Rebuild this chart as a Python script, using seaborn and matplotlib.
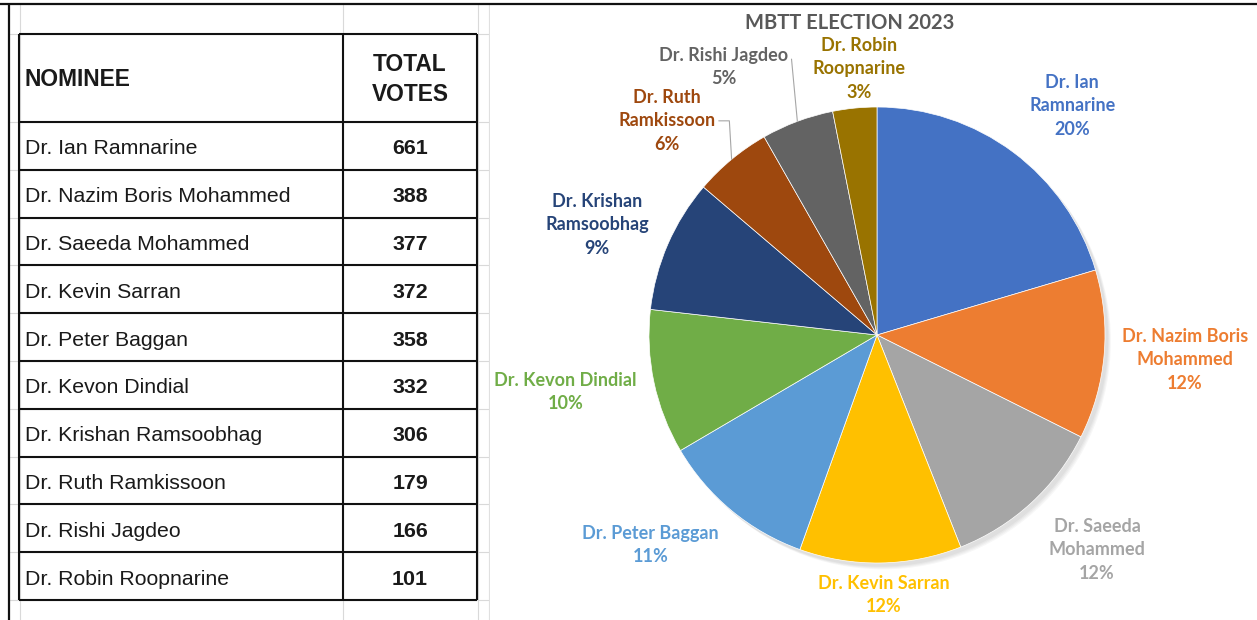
import numpy as np
import matplotlib
matplotlib.use('Agg')
import matplotlib.pyplot as plt
import seaborn as sns
from matplotlib.patches import Circle

# ---- data ----
NOMINEES = ['Dr. Ian Ramnarine', 'Dr. Nazim Boris Mohammed', 'Dr. Saeeda Mohammed',
            'Dr. Kevin Sarran', 'Dr. Peter Baggan', 'Dr. Kevon Dindial',
            'Dr. Krishan Ramsoobhag', 'Dr. Ruth Ramkissoon', 'Dr. Rishi Jagdeo',
            'Dr. Robin Roopnarine']
VOTES = [661, 388, 377, 372, 358, 332, 306, 179, 166, 101]
PIE_LABELS = ['Dr. Ian\nRamnarine', 'Dr. Nazim Boris\nMohammed', 'Dr. Saeeda\nMohammed',
              'Dr. Kevin Sarran', 'Dr. Peter Baggan', 'Dr. Kevon Dindial',
              'Dr. Krishan\nRamsoobhag', 'Dr. Ruth\nRamkissoon', 'Dr. Rishi Jagdeo',
              'Dr. Robin\nRoopnarine']
HEADERS = ['NOMINEE', 'TOTAL\nVOTES']
TITLE = 'MBTT ELECTION 2023'

SLICE_COLORS = ['#4472C4', '#ED7D31', '#A5A5A5', '#FFC000', '#5B9BD5',
                '#70AD47', '#264478', '#9E480E', '#636363', '#997300']

# label placement: distance (pie radii) and angle nudge (deg) from slice middle
LABEL_DIST = [1.32, 1.355, 1.349, 1.14, 1.356, 1.39, 1.32, 1.315, 1.353, 1.17]
LABEL_NUDGE = [-3.7, 0.4, 3.2, 0.6, -7.5, -1.6, 2.0, 4.8, 9.3, -1.7]
LEADERS = [None, None, None, None, None, None, None, 'elbow', 'straight', None]

# ---- layout (pixels) ----
W, H = 1257, 620
TABLE_LEFT, COL_SPLIT, TABLE_RIGHT = 19, 343, 477
HEADER_TOP, HEADER_BOTTOM, ROW_H = 34, 122, 47.8
PIE_CX, PIE_CY, PIE_R, PIE_HALF = 877, 335, 228, 300
GRID_COLS = [20, 343, 478, 489]


def largest_remainder(values):
    raw = np.array(values, dtype=float) / np.sum(values) * 100
    floor = np.floor(raw).astype(int)
    left = 100 - floor.sum()
    order = np.argsort(-(raw - floor))
    floor[order[:left]] += 1
    return floor


sns.set_theme(style='white')
plt.rcParams['font.family'] = ['Liberation Sans', 'DejaVu Sans']

fig = plt.figure(figsize=(W / 100, H / 100), dpi=100)

# background sheet in pixel coordinates
bg = fig.add_axes([0, 0, 1, 1])
bg.set_xlim(0, W)
bg.set_ylim(H, 0)
bg.axis('off')

row_edges = [HEADER_TOP, HEADER_BOTTOM] + [HEADER_BOTTOM + ROW_H * (i + 1) for i in range(len(NOMINEES))]
grid_c = '#D9D9D9'
for x in GRID_COLS:
    bg.vlines(x, 3, H, color=grid_c, lw=0.8, zorder=1)
for y in row_edges + [row_edges[-1] + ROW_H]:
    bg.hlines(y, 9, GRID_COLS[-1], color=grid_c, lw=0.8, zorder=1)
bg.add_patch(plt.Rectangle((GRID_COLS[-1] + 0.5, 4), W, H, color='white', zorder=2))
bg.hlines(3.5, 0, W, color='#111111', lw=1.6, zorder=5)
bg.vlines(9, 3, H, color='#111111', lw=1.6, zorder=5)

# table
tc = '#111111'
for y in row_edges:
    bg.hlines(y, TABLE_LEFT, TABLE_RIGHT, color=tc, lw=1.5, zorder=4)
for x in [TABLE_LEFT, COL_SPLIT, TABLE_RIGHT]:
    bg.vlines(x, row_edges[0], row_edges[-1], color=tc, lw=1.5, zorder=4)

hy = (HEADER_TOP + HEADER_BOTTOM) / 2
num_x = (COL_SPLIT + TABLE_RIGHT) / 2
bg.text(TABLE_LEFT + 6, hy + 1, HEADERS[0], fontsize=16.4, fontweight='bold',
        ha='left', va='center', color='#1a1a1a', zorder=6)
bg.text(num_x, hy + 1.5, HEADERS[1], fontsize=16.4, fontweight='bold', linespacing=1.38,
        ha='center', va='center', color='#1a1a1a', zorder=6)
for i, (name, v) in enumerate(zip(NOMINEES, VOTES)):
    yc = HEADER_BOTTOM + ROW_H * (i + 0.5) + 3
    bg.text(TABLE_LEFT + 6, yc, name, fontsize=15.3, ha='left', va='center',
            color='#1a1a1a', zorder=6)
    bg.text(num_x, yc, str(v), fontsize=15.4, fontweight='bold', ha='center',
            va='center', color='#1a1a1a', zorder=6)

# pie
pax = fig.add_axes([(PIE_CX - PIE_HALF) / W, (H - PIE_CY - PIE_HALF) / H,
                    2 * PIE_HALF / W, 2 * PIE_HALF / H])
lim = PIE_HALF / PIE_R
# soft shadow towards bottom-right
for k in range(4):
    pax.add_patch(Circle((0.014 + 0.004 * k, -0.016 - 0.004 * k), 1.0, color='black',
                         alpha=0.03, lw=0, zorder=0))
wedges, _ = pax.pie(VOTES, colors=SLICE_COLORS, startangle=90, counterclock=False,
                    radius=1.0, wedgeprops=dict(edgecolor='white', linewidth=0.5))
pax.set_xlim(-lim, lim)
pax.set_ylim(-lim, lim)
pax.set_aspect('equal')
pax.axis('off')

pcts = largest_remainder(VOTES)
lab_font = ['Lato', 'DejaVu Sans']
texts = []
for w, lab, pct, d, nud, col in zip(wedges, PIE_LABELS, pcts, LABEL_DIST, LABEL_NUDGE, SLICE_COLORS):
    mid = np.deg2rad((w.theta1 + w.theta2) / 2 + nud)
    t = pax.text(d * np.cos(mid), d * np.sin(mid), f'{lab}\n{pct}%', ha='center',
                 va='center', fontsize=13, fontweight='bold', color=col,
                 family=lab_font, linespacing=1.45)
    texts.append(t)

fig.canvas.draw()
renderer = fig.canvas.get_renderer()
inv = pax.transData.inverted()
for w, t, kind in zip(wedges, texts, LEADERS):
    if kind is None:
        continue
    mid = np.deg2rad((w.theta1 + w.theta2) / 2)
    x0, y0 = np.cos(mid), np.sin(mid)
    bb = t.get_window_extent(renderer)
    (bx0, by0), (bx1, by1) = inv.transform([[bb.x0, bb.y0], [bb.x1, bb.y1]])
    gap = 3 / PIE_R
    if kind == 'elbow':
        ym = (by0 + by1) / 2
        pax.plot([x0, x0 - 0.01, bx1 + gap], [y0, ym, ym], color='#A6A6A6', lw=0.8)
    else:
        ye = by1 - 0.3 * (by1 - by0)
        pax.plot([x0, bx1 + gap], [y0, ye], color='#A6A6A6', lw=0.8)

fig.text(850 / W, 1 - 23 / H, TITLE, ha='center', va='center', fontsize=14.5,
         fontweight='bold', color='#595959', family=lab_font)

fig.savefig('out.png', dpi=100)
